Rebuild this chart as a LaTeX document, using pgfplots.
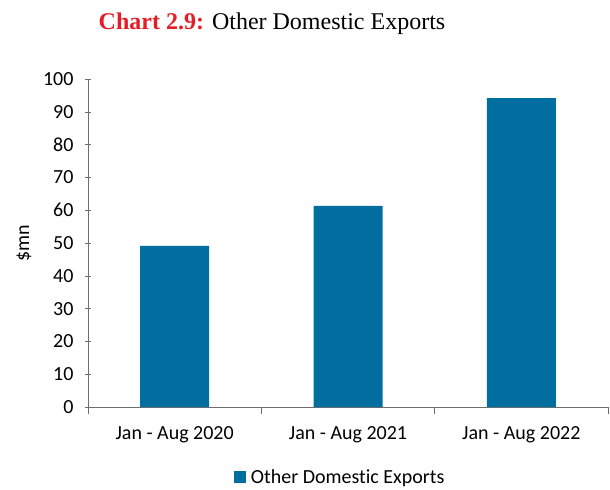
\documentclass[border=0pt]{standalone}
\usepackage{pgfplots}
\pgfplotsset{compat=1.18}
\usepackage{fontspec}
\setmainfont[Ligatures=NoCommon]{Carlito}
\newfontfamily\titlefont{Liberation Serif}
\definecolor{barblue}{RGB}{0,111,160}
\definecolor{titlered}{RGB}{228,30,38}
\definecolor{axgray}{RGB}{110,110,110}
\begin{document}
\begin{tikzpicture}
\begin{axis}[
    name=ax,
    scale only axis,
    width=520bp, height=328bp,
    ymin=0, ymax=100, ytick={0,10,...,100},
    xmin=-0.5, xmax=2.5,
    xtick={0,1,2},
    xticklabels={Jan - Aug 2020, Jan - Aug 2021, Jan - Aug 2022},
    minor xtick={-0.5,0.5,1.5,2.5},
    major x tick style={draw=none},
    minor tick length=7bp,
    major tick length=6bp,
    tick align=outside,
    axis x line=bottom, axis y line=left,
    axis line style={axgray, -},
    every tick/.style={axgray},
    ytick style={axgray},
    minor x tick style={axgray},
    /pgf/number format/assume math mode=true,
    ticklabel style={font=\fontsize{20bp}{24bp}\selectfont, text=black},
    xticklabel style={yshift=-10bp},
    yticklabel style={xshift=-8bp},
    ylabel={\$mn},
    ylabel style={font=\fontsize{20bp}{24bp}\selectfont, yshift=5bp},
    ybar, bar width=69bp,
    legend style={draw=none, at={(0.485,-0.213)}, anchor=center,
      font=\fontsize{20bp}{24bp}\selectfont},
    legend image code/.code={\fill[barblue] (0bp,-6bp) rectangle (12bp,6bp); \path (15bp,0bp);},
  ]
  \addplot[fill=barblue, draw=none] coordinates {(0,49.1) (1,61.3) (2,94.2)};
  \addlegendentry{Other Domestic Exports}
\end{axis}
\node[anchor=base, font=\titlefont\fontsize{24bp}{28bp}\selectfont]
  at ([xshift=184bp,yshift=49bp]ax.north west)
  {\textcolor{titlered}{\bfseries Chart 2.9:} Other Domestic Exports};
\pgfresetboundingbox
\path ([xshift=-88bp,yshift=-83bp]ax.south west) rectangle ([xshift=2bp,yshift=79bp]ax.north east);
\end{tikzpicture}
\end{document}
